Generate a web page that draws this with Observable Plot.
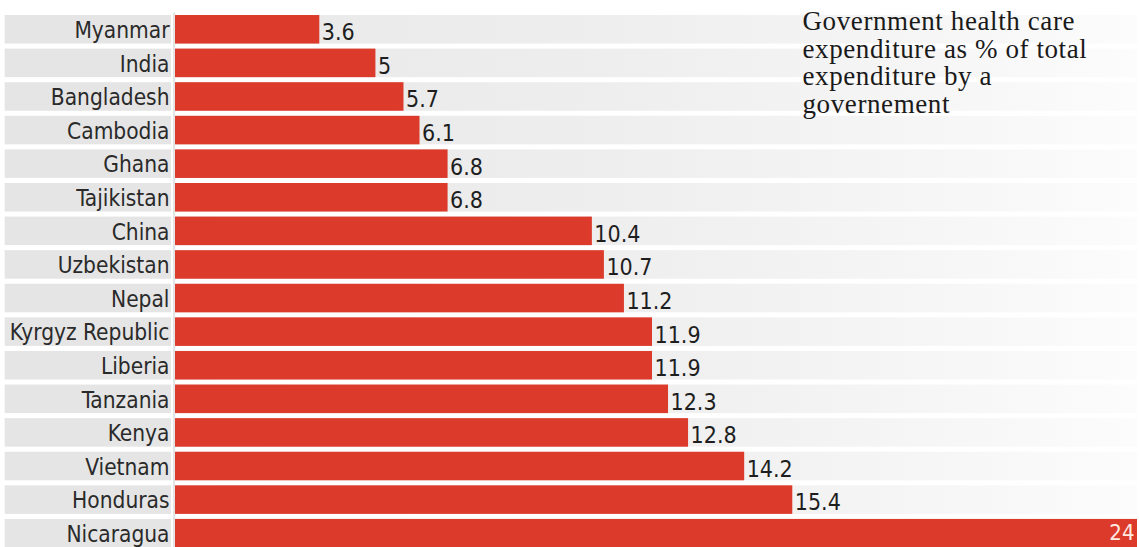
<!DOCTYPE html>
<html>
<head>
<meta charset="utf-8">
<script src="https://cdn.jsdelivr.net/npm/d3@7"></script>
<script src="https://cdn.jsdelivr.net/npm/@observablehq/plot@0.6"></script>
<style>
  html, body { margin: 0; padding: 0; background: #ffffff; overflow: hidden; }
  #chart svg { display: block; }
</style>
</head>
<body>
<div id="chart"></div>
<script>
const countries = [
  "Myanmar", "India", "Bangladesh", "Cambodia", "Ghana", "Tajikistan",
  "China", "Uzbekistan", "Nepal", "Kyrgyz Republic", "Liberia", "Tanzania",
  "Kenya", "Vietnam", "Honduras", "Nicaragua"
];
const values = [3.6, 5, 5.7, 6.1, 6.8, 6.8, 10.4, 10.7, 11.2, 11.9, 11.9, 12.3, 12.8, 14.2, 15.4, 24];
const titleLines = [
  "Government health care",
  "expenditure as % of total",
  "expenditure by a",
  "governement"
];

const data = countries.map((c, i) => ({country: c, value: values[i]}));
const maxValue = d3.max(values);
const labelFont = "'DejaVu Sans Condensed', 'DejaVu Sans', 'Liberation Sans Narrow', sans-serif";

const chart = Plot.plot({
  width: 1139,
  height: 547,
  marginLeft: 175,
  marginRight: 2,
  marginTop: 12.5,
  marginBottom: -3,
  x: {domain: [0, maxValue], axis: null},
  y: {domain: countries, axis: null, paddingInner: 0.15, paddingOuter: 0.075, round: false},
  style: {fontFamily: labelFont},
  marks: [
    // grey band behind the label column
    Plot.barX(data, {y: "country", x1: -4.25, x2: 0, fill: "#e5e5e5", insetRight: 4}),
    // fading band across the plot area
    Plot.barX(data, {y: "country", x1: 0, x2: maxValue, fill: "url(#bandfade)"}),
    Plot.ruleX([0], {stroke: "#c9c9c9", strokeWidth: 1, dx: -1.5}),
    Plot.barX(data, {y: "country", x: "value", fill: "#dc3a2b"}),
    // country labels
    Plot.text(data, {
      y: "country", text: "country", frameAnchor: "left", textAnchor: "end",
      dx: -6, dy: 1, fontSize: 22.5, fill: "#2a2a2a", fontFamily: labelFont
    }),
    // value labels outside bars
    Plot.text(data.filter(d => d.value < maxValue), {
      x: "value", y: "country", text: d => String(d.value), textAnchor: "start",
      dx: 2, dy: 3, fontSize: 23, fill: "#1e1e1e", fontFamily: labelFont
    }),
    // value label inside the longest bar
    Plot.text(data.filter(d => d.value === maxValue), {
      x: "value", y: "country", text: d => String(d.value), textAnchor: "end",
      dx: -3, dy: -1, fontSize: 22, fill: "#ffe9e0", fontFamily: labelFont
    }),
    // title block
    Plot.text([titleLines.join("\n")], {
      text: d => d, frameAnchor: "top-left", lineAnchor: "top", textAnchor: "start",
      dx: 627, dy: -3, fontSize: 27, lineHeight: 1.03, className: "title-block",
      fontFamily: "'Liberation Serif', 'Times New Roman', serif", fill: "#1a1a1a"
    })
  ]
});

const svg = d3.select(chart);
svg.selectAll(".title-block text").style("letter-spacing", "0.6px");
const grad = svg.insert("defs", ":first-child")
  .append("linearGradient")
  .attr("id", "bandfade")
  .attr("x1", "0").attr("x2", "1").attr("y1", "0").attr("y2", "0");
[[0, "#e8e8e8"], [0.45, "#eeeeee"], [0.75, "#f5f5f5"], [1, "#fcfcfc"]].forEach(([o, c]) => {
  grad.append("stop").attr("offset", o).attr("stop-color", c);
});

document.getElementById("chart").appendChild(chart);
</script>
</body>
</html>
